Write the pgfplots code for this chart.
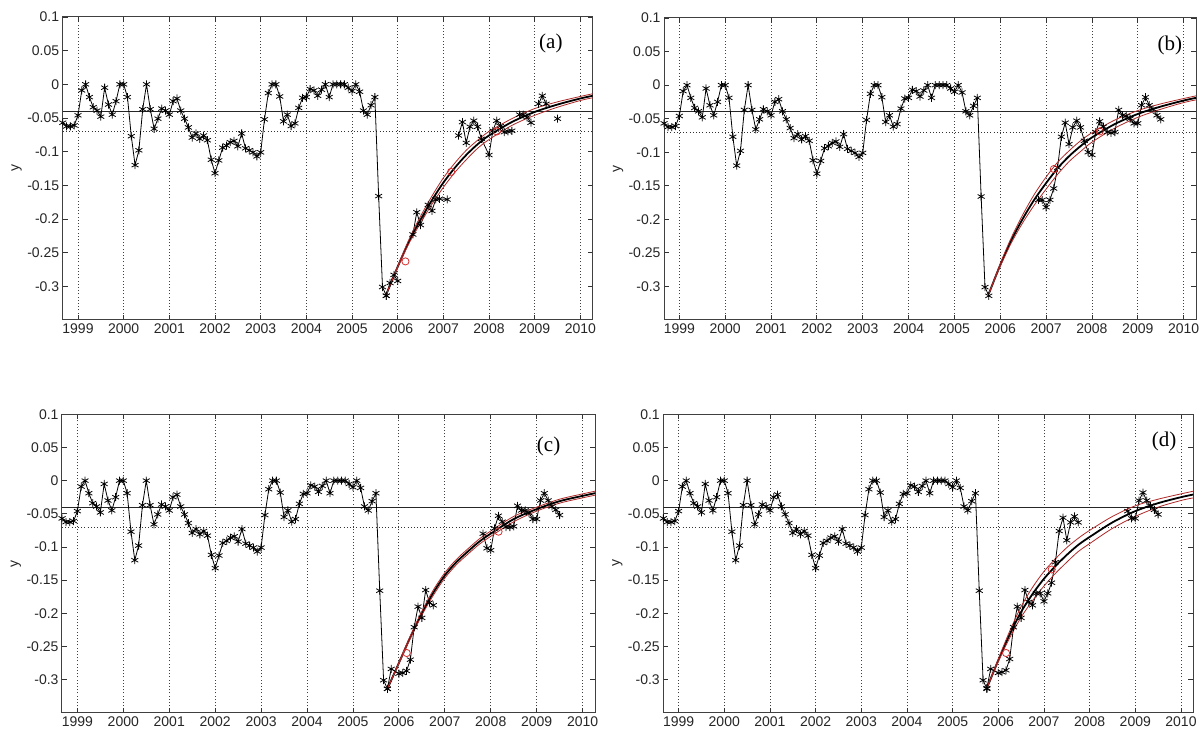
\documentclass[border=0pt]{standalone}
\usepackage{fontspec}
\setmainfont{Liberation Sans}
\newfontfamily\seriffont{Liberation Serif}
\usepackage{pgfplots}
\usepackage{pgfplotstable}
\pgfplotsset{compat=1.18}
\definecolor{bandred}{RGB}{175,40,40}
\definecolor{circred}{RGB}{215,45,45}

\pgfplotstableread{
x y
1998.667 -0.057
1998.750 -0.0625
1998.833 -0.0625
1998.917 -0.061
1999.000 -0.046
1999.083 -0.009
1999.167 0
1999.250 -0.019
1999.333 -0.034
1999.417 -0.039
1999.500 -0.048
1999.583 -0.005
1999.667 -0.030
1999.750 -0.045
1999.833 -0.025
1999.917 0
2000.000 0
2000.083 -0.019
2000.167 -0.077
2000.250 -0.120
2000.333 -0.098
2000.417 -0.037
2000.500 0
2000.583 -0.037
2000.667 -0.066
2000.750 -0.051
2000.833 -0.036
2000.917 -0.039
2001.000 -0.045
2001.083 -0.025
2001.167 -0.021
2001.250 -0.039
2001.333 -0.051
2001.417 -0.064
2001.500 -0.079
2001.583 -0.073
2001.667 -0.081
2001.750 -0.076
2001.833 -0.083
2001.917 -0.112
2002.000 -0.132
2002.083 -0.113
2002.167 -0.094
2002.250 -0.091
2002.333 -0.086
2002.417 -0.084
2002.500 -0.092
2002.583 -0.073
2002.667 -0.095
2002.750 -0.098
2002.833 -0.101
2002.917 -0.107
2003.000 -0.101
2003.083 -0.052
2003.167 -0.013
2003.250 0
2003.333 0
2003.417 -0.018
2003.500 -0.055
2003.583 -0.045
2003.667 -0.062
2003.750 -0.058
2003.833 -0.035
2003.917 -0.020
2004.000 -0.019
2004.083 -0.007
2004.167 -0.009
2004.250 -0.017
2004.333 -0.008
2004.417 0
2004.500 -0.019
2004.583 0
2004.667 0
2004.750 0
2004.833 0
2004.917 -0.005
2005.000 -0.010
2005.083 0
2005.167 -0.011
2005.250 -0.039
2005.333 -0.045
2005.417 -0.031
2005.500 -0.019
2005.583 -0.166
2005.667 -0.301
2005.750 -0.314
}\earlydata

\pgfplotstableread{
x y
2005.750 -0.314
2005.833 -0.295
2005.917 -0.283
2006.000 -0.292
nan nan
2006.333 -0.223
2006.417 -0.190
2006.500 -0.209
2006.667 -0.179
2006.750 -0.188
2006.833 -0.171
2006.917 -0.170
2007.083 -0.171
nan nan
2007.333 -0.076
2007.417 -0.056
2007.500 -0.087
2007.583 -0.063
2007.667 -0.054
2007.750 -0.063
2007.833 -0.081
2008.000 -0.105
2008.083 -0.069
2008.167 -0.054
2008.250 -0.062
2008.333 -0.071
2008.417 -0.070
2008.500 -0.069
nan nan
2008.667 -0.045
2008.750 -0.045
2008.833 -0.049
2008.917 -0.057
nan nan
2009.083 -0.029
2009.167 -0.017
2009.250 -0.029
nan nan
2009.500 -0.051
}\lateA

\pgfplotstableread{
x y
2006.833 -0.171
2006.917 -0.171
2007.000 -0.182
2007.083 -0.171
2007.167 -0.154
2007.250 -0.123
2007.333 -0.077
2007.417 -0.056
2007.500 -0.088
2007.583 -0.063
2007.667 -0.053
2007.750 -0.063
2007.833 -0.083
2007.917 -0.100
2008.000 -0.104
2008.083 -0.070
2008.167 -0.054
2008.250 -0.062
2008.333 -0.070
2008.417 -0.071
2008.500 -0.070
2008.583 -0.037
2008.667 -0.045
2008.750 -0.046
2008.833 -0.050
2008.917 -0.057
2009.000 -0.057
2009.083 -0.030
2009.167 -0.018
2009.250 -0.030
2009.333 -0.036
2009.417 -0.045
2009.500 -0.051
}\lateB

\pgfplotstableread{
x y
2005.750 -0.314
2005.833 -0.284
2006.000 -0.291
2006.083 -0.290
2006.167 -0.287
2006.250 -0.270
2006.333 -0.221
2006.417 -0.190
2006.500 -0.207
2006.583 -0.165
2006.667 -0.184
2006.750 -0.188
nan nan
2007.833 -0.080
2007.917 -0.102
2008.000 -0.105
2008.083 -0.072
2008.167 -0.053
2008.250 -0.062
2008.333 -0.070
2008.417 -0.070
2008.500 -0.069
2008.583 -0.038
2008.667 -0.045
2008.750 -0.045
2008.833 -0.049
2008.917 -0.058
2009.000 -0.058
2009.083 -0.030
2009.167 -0.019
2009.250 -0.030
2009.333 -0.039
2009.417 -0.044
2009.500 -0.052
}\lateC

\pgfplotstableread{
x y
2005.750 -0.313
2005.833 -0.284
2006.000 -0.290
2006.083 -0.289
2006.167 -0.286
2006.250 -0.269
2006.333 -0.221
2006.417 -0.190
2006.500 -0.207
2006.583 -0.165
2006.667 -0.183
2006.750 -0.188
2006.833 -0.170
2006.917 -0.170
2007.000 -0.182
2007.083 -0.170
2007.167 -0.154
2007.250 -0.123
2007.333 -0.076
2007.417 -0.056
2007.500 -0.090
2007.583 -0.063
2007.667 -0.054
2007.750 -0.063
nan nan
2008.833 -0.046
2008.917 -0.057
2009.000 -0.057
2009.083 -0.030
2009.167 -0.018
2009.250 -0.030
2009.333 -0.038
2009.417 -0.044
2009.500 -0.051
}\lateD

\pgfplotstableread{
x y u l
2005.75 -0.312 -0.312 -0.312
2006.00 -0.271 -0.270 -0.272
2006.25 -0.233 -0.230 -0.236
2006.50 -0.201 -0.196 -0.206
2006.75 -0.172 -0.166 -0.178
2007.00 -0.146 -0.139 -0.153
2007.25 -0.124 -0.117 -0.131
2007.50 -0.105 -0.098 -0.112
2007.75 -0.089 -0.083 -0.095
2008.00 -0.076 -0.070 -0.082
2008.50 -0.056 -0.051 -0.061
2009.00 -0.041 -0.036 -0.046
2009.50 -0.030 -0.026 -0.034
2010.00 -0.021 -0.018 -0.024
2010.27 -0.017 -0.014 -0.020
}\fitA

\pgfplotstableread{
x y u l
2005.75 -0.311 -0.311 -0.311
2006.00 -0.268 -0.266 -0.270
2006.25 -0.230 -0.226 -0.234
2006.50 -0.198 -0.192 -0.204
2006.75 -0.170 -0.162 -0.178
2007.00 -0.146 -0.137 -0.155
2007.25 -0.124 -0.115 -0.133
2007.50 -0.106 -0.098 -0.114
2007.75 -0.091 -0.083 -0.099
2008.00 -0.078 -0.071 -0.085
2008.50 -0.058 -0.052 -0.064
2009.00 -0.043 -0.038 -0.048
2009.50 -0.032 -0.028 -0.036
2010.00 -0.023 -0.020 -0.026
2010.27 -0.019 -0.016 -0.022
}\fitB

\pgfplotstableread{
x y u l
2005.75 -0.314 -0.314 -0.314
2006.00 -0.275 -0.274 -0.276
2006.25 -0.236 -0.234 -0.238
2006.50 -0.200 -0.197 -0.203
2006.75 -0.169 -0.165 -0.173
2007.00 -0.143 -0.139 -0.147
2007.25 -0.123 -0.119 -0.127
2007.50 -0.107 -0.103 -0.111
2007.75 -0.092 -0.088 -0.096
2008.00 -0.080 -0.076 -0.084
2008.50 -0.058 -0.054 -0.062
2009.00 -0.043 -0.040 -0.046
2009.50 -0.031 -0.028 -0.034
2010.00 -0.023 -0.020 -0.026
2010.27 -0.019 -0.016 -0.022
}\fitC

\pgfplotstableread{
x y u l
2005.75 -0.313 -0.313 -0.313
2006.00 -0.271 -0.269 -0.273
2006.25 -0.232 -0.227 -0.237
2006.50 -0.198 -0.190 -0.206
2006.75 -0.171 -0.161 -0.181
2007.00 -0.148 -0.137 -0.159
2007.25 -0.129 -0.118 -0.140
2007.50 -0.112 -0.101 -0.123
2007.75 -0.097 -0.087 -0.107
2008.00 -0.085 -0.075 -0.095
2008.50 -0.063 -0.054 -0.072
2009.00 -0.046 -0.038 -0.054
2009.50 -0.034 -0.028 -0.040
2010.00 -0.025 -0.020 -0.030
2010.27 -0.021 -0.016 -0.026
}\fitD

\pgfplotsset{
  panel/.style={
    scale only axis,
    xmin=1998.665, xmax=2010.27,
    ymin=-0.35, ymax=0.1,
    xtick={1999,2000,2001,2002,2003,2004,2005,2006,2007,2008,2009,2010},
    xticklabels={1999,2000,2001,2002,2003,2004,2005,2006,2007,2008,2009,2010},
    ytick={-0.3,-0.25,-0.2,-0.15,-0.1,-0.05,0,0.05,0.1},
    yticklabels={-0.3,-0.25,-0.2,-0.15,-0.1,-0.05,0,0.05,0.1},
    xmajorgrids,
    major grid style={black!75, line width=0.8pt, dash pattern=on 1pt off 2.2pt},
    tick align=inside,
    major tick length=5pt,
    minor tick num=0,
    tick style={black!80, line width=0.8pt},
    axis line style={black!75, line width=1pt},
    ticklabel style={font=\fontsize{14}{16}\selectfont, text=black!85},
    ylabel={y},
    ylabel style={font=\fontsize{14}{16}\selectfont, text=black!85,
      at={(rel axis cs:0,0.5)}, anchor=center, yshift=46pt},
    unbounded coords=jump,
  },
  data/.style={black, line width=0.8pt, mark=asterisk, mark size=4pt,
    mark options={solid, line width=0.8pt}},
  fit/.style={black, line width=1.8pt, smooth, no marks},
  band/.style={bandred, line width=0.8pt, smooth, no marks},
  circ/.style={only marks, mark=o, mark size=3.6pt, mark options={circred, line width=0.8pt}},
}

\newcommand{\reflines}{%
  \addplot[black!85, line width=1pt, no marks] coordinates {(1998.665,-0.04) (2010.27,-0.04)};
  \addplot[black!80, line width=0.8pt, dash pattern=on 1pt off 2.2pt, no marks] coordinates {(1998.665,-0.07) (2010.27,-0.07)};
  \addplot[data] table[x=x,y=y] {\earlydata};
}
\newcommand{\fitplots}[1]{%
  \addplot[fit] table[x=x,y=y] {#1};
  \addplot[band] table[x=x,y=u] {#1};
  \addplot[band] table[x=x,y=l] {#1};
}

\begin{document}
\begin{tikzpicture}
\useasboundingbox (0,0) rectangle (1203pt,731pt);

% (a)
\begin{axis}[panel, at={(62.7pt,411pt)}, anchor=south west, width=530pt, height=303pt]
\reflines
\addplot[data] table[x=x,y=y] {\lateA};
\fitplots{\fitA}
\addplot[circ] coordinates {(2006.17,-0.263) (2007.17,-0.130) (2008.17,-0.070)};
\node[font=\seriffont\fontsize{21}{24}\selectfont] at (rel axis cs:0.921,0.914) {(a)};
\end{axis}

% (b)
\begin{axis}[panel, at={(664pt,411pt)}, anchor=south west, width=532pt, height=302pt]
\reflines
\addplot[data] table[x=x,y=y] {\lateB};
\fitplots{\fitB}
\addplot[circ] coordinates {(2007.17,-0.125) (2008.17,-0.069)};
\node[font=\seriffont\fontsize{21}{24}\selectfont] at (rel axis cs:0.951,0.91) {(b)};
\end{axis}

% (c)
\begin{axis}[panel, at={(62pt,18.3pt)}, anchor=south west, width=533pt, height=298.4pt]
\reflines
\addplot[data] table[x=x,y=y] {\lateC};
\fitplots{\fitC}
\addplot[circ] coordinates {(2006.17,-0.260) (2008.17,-0.077)};
\node[font=\seriffont\fontsize{21}{24}\selectfont] at (rel axis cs:0.913,0.893) {(c)};
\end{axis}

% (d)
\begin{axis}[panel, at={(663.3pt,18.3pt)}, anchor=south west, width=530pt, height=298.4pt]
\reflines
\addplot[data] table[x=x,y=y] {\lateD};
\fitplots{\fitD}
\addplot[circ] coordinates {(2006.17,-0.260) (2007.17,-0.134)};
\node[font=\seriffont\fontsize{21}{24}\selectfont] at (rel axis cs:0.945,0.91) {(d)};
\end{axis}
\end{tikzpicture}
\end{document}
